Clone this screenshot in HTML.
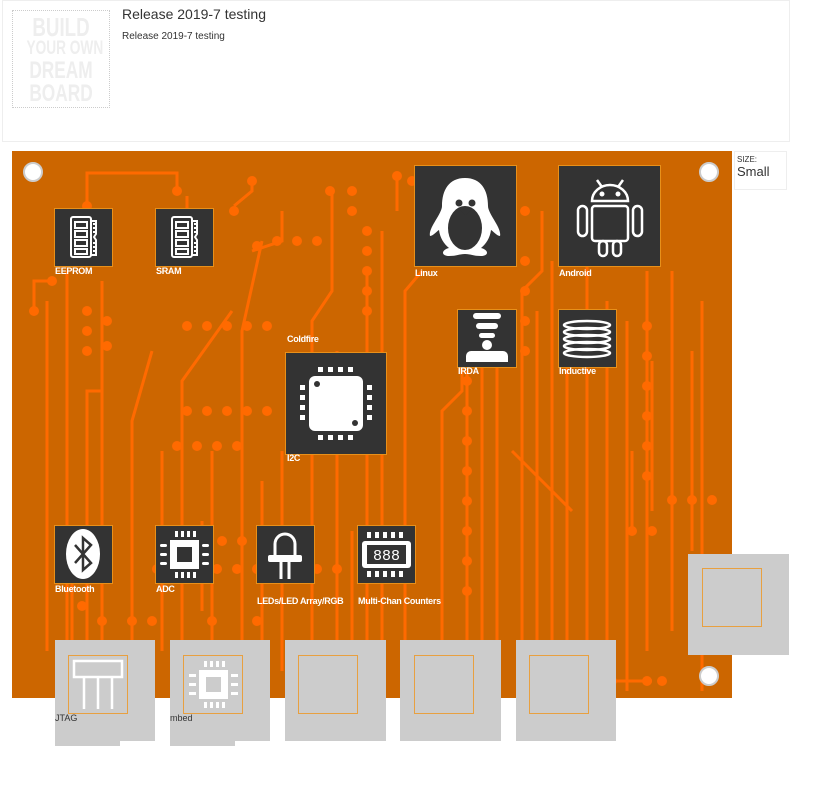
<!DOCTYPE html>
<html><head><meta charset="utf-8"><style>
body{margin:0;width:827px;height:809px;background:#fff;position:relative;overflow:hidden;font-family:"Liberation Sans",sans-serif}
.a{position:absolute}
.ic{position:absolute;background:#333;border:1px solid #e8901a;box-sizing:border-box}
.lb{position:absolute;color:#fff;font-size:9px;font-weight:bold;letter-spacing:-0.3px;white-space:nowrap}
.g{position:absolute;background:#ccc}
.gi{position:absolute;border:1px solid #e8a040;box-sizing:border-box}
.lg{display:block;white-space:nowrap;transform:scaleX(0.72);transform-origin:center}
</style></head><body>
<div class="a" style="left:2px;top:0;width:786px;height:140px;border:1px solid #eee"></div>
<div class="a" style="left:12px;top:10px;width:98px;height:98px;border:1px dotted #ccc;box-sizing:border-box;color:#eee;font-weight:bold;text-align:center;padding-top:4px;overflow:hidden">
<span class="lg" style="font-size:26px;line-height:24px">BUILD</span>
<span class="lg" style="font-size:19px;line-height:20px">YOUR OWN</span>
<span class="lg" style="font-size:24px;line-height:23px">DREAM</span>
<span class="lg" style="font-size:24px;line-height:23px">BOARD</span></div>
<div class="a" style="left:122px;top:6px;font-size:14px;color:#333">Release 2019-7 testing</div>
<div class="a" style="left:122px;top:31px;font-size:10px;color:#333">Release 2019-7 testing</div>
<div class="a" style="left:734px;top:151px;width:53px;height:39px;border:1px solid #eee;box-sizing:border-box;color:#333"><div style="font-size:8px;margin:3px 0 0 2px">SIZE:</div><div style="font-size:13px;margin-left:2px">Small</div></div>

<svg class="a" style="left:12px;top:151px" width="720" height="547" viewBox="0 0 720 547">
<rect width="720" height="547" fill="#cc6600"/>
<g stroke="#ff6a00" stroke-width="3" fill="none">
<path d="M75 55V22H165V40"/><path d="M22 160V130H40"/><path d="M35 500V150"/><path d="M55 520V120"/><path d="M75 520V240H90V130"/>
<path d="M90 490V180"/><path d="M120 520V270L140 200"/><path d="M150 500V300"/><path d="M170 520V230L220 160"/>
<path d="M200 520V300"/><path d="M230 500V180L250 90"/><path d="M250 520V330"/><path d="M270 520V300"/>
<path d="M300 520V170L320 140V40"/><path d="M325 540V200"/><path d="M355 520V120"/>
<path d="M385 60V25"/><path d="M370 540V80"/><path d="M393 520V140L410 120"/><path d="M430 520V260L450 240V170"/>
<path d="M455 540V220"/><path d="M470 520V180"/><path d="M485 500V170"/><path d="M510 540V140L530 120V60"/>
<path d="M525 520V160"/><path d="M540 520V110"/><path d="M555 500V210"/><path d="M575 540V90"/>
<path d="M595 520V150"/><path d="M615 540V170"/><path d="M635 500V120"/><path d="M660 480V120"/><path d="M680 400V200"/>
<path d="M690 540V150"/><path d="M620 380V300"/><path d="M640 360V210"/>
<path d="M222 55L240 40V30"/><path d="M175 80V45"/><path d="M240 100L270 90V60"/>
<path d="M60 500V380"/><path d="M470 60L500 100"/><path d="M500 300L560 360"/>
<path d="M600 530H640"/><path d="M190 370V460"/><path d="M340 380V500"/>
</g>
<g fill="#ff6a00">
<circle cx="22" cy="160" r="5"/><circle cx="40" cy="130" r="5"/><circle cx="75" cy="55" r="5"/><circle cx="165" cy="40" r="5"/>
<circle cx="222" cy="60" r="5"/><circle cx="240" cy="30" r="5"/><circle cx="245" cy="95" r="5"/><circle cx="265" cy="90" r="5"/><circle cx="285" cy="90" r="5"/><circle cx="305" cy="90" r="5"/>
<circle cx="318" cy="40" r="5"/><circle cx="340" cy="40" r="5"/><circle cx="340" cy="60" r="5"/><circle cx="355" cy="80" r="5"/>
<circle cx="355" cy="100" r="5"/><circle cx="355" cy="120" r="5"/><circle cx="355" cy="140" r="5"/><circle cx="355" cy="160" r="5"/>
<circle cx="385" cy="25" r="5"/><circle cx="400" cy="30" r="5"/>
<circle cx="75" cy="160" r="5"/><circle cx="75" cy="180" r="5"/><circle cx="75" cy="200" r="5"/><circle cx="95" cy="170" r="5"/><circle cx="95" cy="195" r="5"/>
<circle cx="175" cy="175" r="5"/><circle cx="195" cy="175" r="5"/><circle cx="215" cy="175" r="5"/><circle cx="235" cy="175" r="5"/><circle cx="255" cy="175" r="5"/>
<circle cx="175" cy="260" r="5"/><circle cx="195" cy="260" r="5"/><circle cx="215" cy="260" r="5"/><circle cx="235" cy="260" r="5"/><circle cx="255" cy="260" r="5"/>
<circle cx="165" cy="295" r="5"/><circle cx="185" cy="295" r="5"/><circle cx="205" cy="295" r="5"/><circle cx="225" cy="295" r="5"/>
<circle cx="170" cy="390" r="5"/><circle cx="190" cy="390" r="5"/><circle cx="210" cy="390" r="5"/><circle cx="230" cy="390" r="5"/><circle cx="250" cy="390" r="5"/><circle cx="270" cy="390" r="5"/>
<circle cx="145" cy="418" r="5"/><circle cx="165" cy="418" r="5"/><circle cx="185" cy="418" r="5"/><circle cx="205" cy="418" r="5"/><circle cx="225" cy="418" r="5"/><circle cx="245" cy="418" r="5"/><circle cx="265" cy="418" r="5"/><circle cx="285" cy="418" r="5"/><circle cx="305" cy="418" r="5"/><circle cx="325" cy="418" r="5"/>
<circle cx="70" cy="455" r="5"/><circle cx="90" cy="470" r="5"/><circle cx="120" cy="470" r="5"/><circle cx="140" cy="470" r="5"/><circle cx="200" cy="470" r="5"/><circle cx="245" cy="470" r="5"/>
<circle cx="455" cy="170" r="5"/><circle cx="455" cy="200" r="5"/><circle cx="455" cy="230" r="5"/><circle cx="455" cy="260" r="5"/><circle cx="455" cy="290" r="5"/><circle cx="455" cy="320" r="5"/><circle cx="455" cy="350" r="5"/><circle cx="455" cy="380" r="5"/><circle cx="455" cy="410" r="5"/><circle cx="455" cy="440" r="5"/>
<circle cx="513" cy="60" r="5"/><circle cx="513" cy="110" r="5"/><circle cx="513" cy="140" r="5"/><circle cx="513" cy="170" r="5"/><circle cx="513" cy="200" r="5"/>
<circle cx="635" cy="175" r="5"/><circle cx="635" cy="205" r="5"/><circle cx="635" cy="235" r="5"/><circle cx="635" cy="265" r="5"/><circle cx="635" cy="295" r="5"/><circle cx="635" cy="325" r="5"/>
<circle cx="660" cy="349" r="5"/><circle cx="680" cy="349" r="5"/><circle cx="700" cy="349" r="5"/><circle cx="620" cy="380" r="5"/><circle cx="640" cy="380" r="5"/>
<circle cx="635" cy="530" r="5"/><circle cx="650" cy="530" r="5"/><circle cx="560" cy="530" r="5"/><circle cx="580" cy="530" r="5"/><circle cx="600" cy="530" r="5"/><circle cx="325" cy="530" r="5"/><circle cx="345" cy="530" r="5"/>
</g>
<g fill="#fff" stroke="#ccc" stroke-width="2"><circle cx="21" cy="21" r="9"/><circle cx="697" cy="21" r="9"/><circle cx="697" cy="525" r="9"/></g>
</svg>

<div class="ic" style="left:54px;top:208px;width:59px;height:59px"><svg width="57" height="57"><g fill="none" stroke="#fff" stroke-width="2"><rect x="16" y="8" width="20" height="40" rx="2"/><rect x="20" y="13" width="12" height="6"/><rect x="20" y="22" width="12" height="6"/><rect x="20" y="31" width="12" height="6"/><rect x="20" y="40" width="12" height="5"/><path d="M36 12h5v13l-2 3 2 3v15h-5M38 15h3M38 19h3M38 23h3M38 34h3M38 38h3M38 42h3"/></g></svg></div>
<div class="lb" style="left:55px;top:266px">EEPROM</div>
<div class="ic" style="left:155px;top:208px;width:59px;height:59px"><svg width="57" height="57"><g fill="none" stroke="#fff" stroke-width="2"><rect x="16" y="8" width="20" height="40" rx="2"/><rect x="20" y="13" width="12" height="6"/><rect x="20" y="22" width="12" height="6"/><rect x="20" y="31" width="12" height="6"/><rect x="20" y="40" width="12" height="5"/><path d="M36 12h5v13l-2 3 2 3v15h-5M38 15h3M38 19h3M38 23h3M38 34h3M38 38h3M38 42h3"/></g></svg></div>
<div class="lb" style="left:156px;top:266px">SRAM</div>

<div class="ic" style="left:414px;top:165px;width:103px;height:102px"><svg width="101" height="100"><path fill="#fff" d="M50 12c-16 0-23 12-23 28 0 8-14 22-12 30 3 0 7-5 9-6 1 8 5 14 10 18-8 2-8 8 0 8 8 0 10-2 16-2s8 2 16 2 8-6 0-8c5-4 9-10 10-18 2 1 6 6 9 6 2-8-12-22-12-30 0-16-7-28-23-28z"/><ellipse cx="50" cy="62" rx="17" ry="22" fill="#333"/><circle cx="44" cy="37" r="3.5" fill="#333"/><circle cx="57" cy="37" r="3.5" fill="#333"/><path d="M45 44h11l-5.5 6z" fill="#333"/></svg></div>
<div class="lb" style="left:415px;top:268px">Linux</div>
<div class="ic" style="left:558px;top:165px;width:103px;height:102px"><svg width="101" height="100"><g fill="none" stroke="#fff" stroke-width="2.5"><path d="M33 35a18 16 0 0 1 36 0z"/><rect x="33" y="40" width="36" height="35" rx="3"/><rect x="19" y="40" width="9" height="30" rx="4.5"/><rect x="74" y="40" width="9" height="30" rx="4.5"/><rect x="40" y="75" width="8" height="15" rx="4"/><rect x="54" y="75" width="8" height="15" rx="4"/><path d="M38 14l5 7M64 14l-5 7"/></g><circle cx="43" cy="28" r="2.5" fill="#fff"/><circle cx="59" cy="28" r="2.5" fill="#fff"/></svg></div>
<div class="lb" style="left:559px;top:268px">Android</div>

<div class="ic" style="left:457px;top:309px;width:60px;height:59px"><svg width="58" height="57"><g fill="#fff"><rect x="15" y="3" width="28" height="6" rx="3"/><rect x="18" y="13" width="22" height="6" rx="3"/><rect x="21" y="23" width="16" height="5" rx="2.5"/><circle cx="29" cy="35" r="5"/><path d="M8 52v-6a5 5 0 0 1 5-5h32a5 5 0 0 1 5 5v6z"/></g></svg></div>
<div class="lb" style="left:458px;top:366px">IRDA</div>
<div class="ic" style="left:558px;top:309px;width:59px;height:59px"><svg width="57" height="57"><g fill="none" stroke="#fff" stroke-width="2.5"><ellipse cx="28" cy="15" rx="23" ry="4"/><ellipse cx="28" cy="22" rx="23" ry="4"/><ellipse cx="28" cy="29" rx="23" ry="4"/><ellipse cx="28" cy="36" rx="23" ry="4"/><ellipse cx="28" cy="43" rx="23" ry="4"/></g></svg></div>
<div class="lb" style="left:559px;top:366px">Inductive</div>

<div class="lb" style="left:287px;top:334px">Coldfire</div>
<div class="ic" style="left:285px;top:352px;width:102px;height:103px"><svg width="100" height="101"><rect x="23" y="23" width="54" height="55" rx="6" fill="#fff"/><circle cx="31" cy="31" r="3" fill="#333"/><circle cx="69" cy="70" r="3" fill="#333"/><g fill="#fff"><rect x="32" y="14" width="5" height="5"/><rect x="42" y="14" width="5" height="5"/><rect x="52" y="14" width="5" height="5"/><rect x="62" y="14" width="5" height="5"/><rect x="32" y="82" width="5" height="5"/><rect x="42" y="82" width="5" height="5"/><rect x="52" y="82" width="5" height="5"/><rect x="62" y="82" width="5" height="5"/><rect x="14" y="32" width="5" height="5"/><rect x="14" y="42" width="5" height="5"/><rect x="14" y="52" width="5" height="5"/><rect x="14" y="62" width="5" height="5"/><rect x="81" y="32" width="5" height="5"/><rect x="81" y="42" width="5" height="5"/><rect x="81" y="52" width="5" height="5"/><rect x="81" y="62" width="5" height="5"/></g></svg></div>
<div class="lb" style="left:287px;top:453px">I2C</div>

<div class="ic" style="left:54px;top:525px;width:59px;height:59px"><svg width="57" height="57"><ellipse cx="28" cy="28" rx="17" ry="25" fill="#fff"/><path d="M20 19l16 18-8 7V12l8 7-16 18" fill="none" stroke="#333" stroke-width="2.5"/></svg></div>
<div class="lb" style="left:55px;top:584px">Bluetooth</div>
<div class="ic" style="left:155px;top:525px;width:59px;height:59px"><svg width="57" height="57"><rect x="14" y="14" width="29" height="29" fill="#fff"/><rect x="21" y="21" width="15" height="15" fill="#333"/><g fill="#fff"><rect x="19" y="5" width="3" height="6"/><rect x="25" y="5" width="3" height="6"/><rect x="31" y="5" width="3" height="6"/><rect x="37" y="5" width="3" height="6"/><rect x="19" y="46" width="3" height="6"/><rect x="25" y="46" width="3" height="6"/><rect x="31" y="46" width="3" height="6"/><rect x="37" y="46" width="3" height="6"/><rect x="4" y="18" width="7" height="3" rx="1.5"/><rect x="4" y="27" width="7" height="3" rx="1.5"/><rect x="4" y="36" width="7" height="3" rx="1.5"/><rect x="46" y="18" width="7" height="3" rx="1.5"/><rect x="46" y="27" width="7" height="3" rx="1.5"/><rect x="46" y="36" width="7" height="3" rx="1.5"/></g></svg></div>
<div class="lb" style="left:156px;top:584px">ADC</div>
<div class="ic" style="left:256px;top:525px;width:59px;height:59px"><svg width="57" height="57"><g fill="none" stroke="#fff" stroke-width="3"><path d="M18 30V18a10 10 0 0 1 20 0v12"/><path d="M24 36v17M32 36v17"/></g><rect x="11" y="29" width="34" height="7" rx="2" fill="#fff"/></svg></div>
<div class="lb" style="left:257px;top:596px">LEDs/LED Array/RGB</div>
<div class="ic" style="left:357px;top:525px;width:59px;height:59px"><svg width="57" height="57"><rect x="4" y="15" width="49" height="27" rx="3" fill="#fff"/><rect x="9" y="19" width="39" height="19" fill="#333"/><text x="28.5" y="34" fill="#fff" font-size="15" text-anchor="middle" font-family="Liberation Mono">888</text><g fill="#fff"><rect x="9" y="6" width="4" height="6"/><rect x="17" y="6" width="4" height="6"/><rect x="25" y="6" width="4" height="6"/><rect x="33" y="6" width="4" height="6"/><rect x="41" y="6" width="4" height="6"/><rect x="9" y="45" width="4" height="6"/><rect x="17" y="45" width="4" height="6"/><rect x="25" y="45" width="4" height="6"/><rect x="33" y="45" width="4" height="6"/><rect x="41" y="45" width="4" height="6"/></g></svg></div>
<div class="lb" style="left:358px;top:596px">Multi-Chan Counters</div>

<div class="g" style="left:55px;top:640px;width:100px;height:101px"></div><div class="g" style="left:55px;top:740px;width:65px;height:6px"></div>
<div class="gi" style="left:68px;top:655px;width:60px;height:59px"><svg width="58" height="57"><g fill="none" stroke="#fff" stroke-width="2.5"><rect x="5" y="5" width="48" height="16"/><path d="M15 21v32M29 21v32M43 21v32"/></g></svg></div>
<div class="a" style="left:55px;top:713px;font-size:9px;color:#333">JTAG</div>
<div class="g" style="left:170px;top:640px;width:100px;height:101px"></div><div class="g" style="left:170px;top:740px;width:65px;height:6px"></div>
<div class="gi" style="left:183px;top:655px;width:60px;height:59px"><svg width="58" height="57"><rect x="15" y="14" width="29" height="29" fill="#fff"/><rect x="22" y="21" width="15" height="15" fill="#ccc"/><g fill="#fff"><rect x="20" y="5" width="3" height="6"/><rect x="26" y="5" width="3" height="6"/><rect x="32" y="5" width="3" height="6"/><rect x="38" y="5" width="3" height="6"/><rect x="20" y="46" width="3" height="6"/><rect x="26" y="46" width="3" height="6"/><rect x="32" y="46" width="3" height="6"/><rect x="38" y="46" width="3" height="6"/><rect x="5" y="18" width="7" height="3"/><rect x="5" y="27" width="7" height="3"/><rect x="5" y="36" width="7" height="3"/><rect x="47" y="18" width="7" height="3"/><rect x="47" y="27" width="7" height="3"/><rect x="47" y="36" width="7" height="3"/></g></svg></div>
<div class="a" style="left:170px;top:713px;font-size:9px;color:#333">mbed</div>
<div class="g" style="left:285px;top:640px;width:101px;height:101px"></div><div class="gi" style="left:298px;top:655px;width:60px;height:59px"></div>
<div class="g" style="left:400px;top:640px;width:101px;height:101px"></div><div class="gi" style="left:414px;top:655px;width:60px;height:59px"></div>
<div class="g" style="left:516px;top:640px;width:100px;height:101px"></div><div class="gi" style="left:529px;top:655px;width:60px;height:59px"></div>
<div class="g" style="left:688px;top:554px;width:101px;height:101px"></div><div class="gi" style="left:702px;top:568px;width:60px;height:59px"></div>
</body></html>
